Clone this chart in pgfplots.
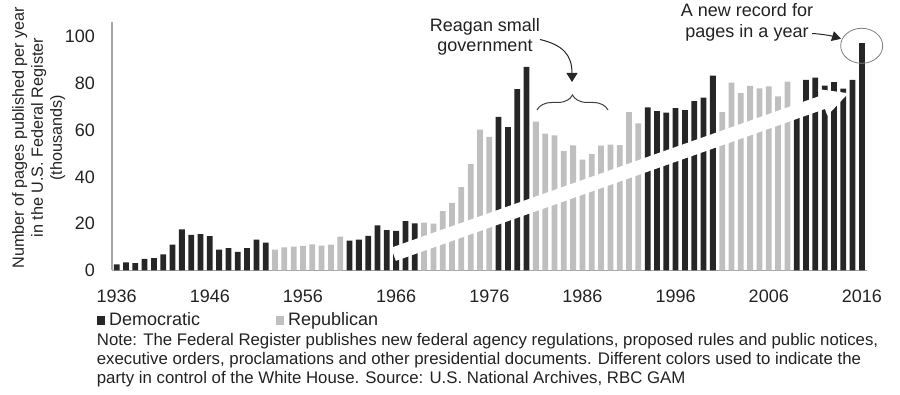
\documentclass[border=0pt]{standalone}
\usepackage{fontspec}
\setmainfont{Liberation Sans}
\usepackage{pgfplots}
\usepackage{pgfplotstable}
\pgfplotsset{compat=1.18}
\usetikzlibrary{arrows.meta,decorations.pathreplacing}

\definecolor{dem}{HTML}{262626}
\definecolor{rep}{HTML}{BFBFBF}
\definecolor{axisgray}{HTML}{A6A6A6}
\definecolor{txt}{HTML}{222222}
\definecolor{note}{HTML}{404040}

% Federal Register pages published per year (thousands), by party in the White House
\pgfplotstableread{
year pages
1936 2.6
1937 3.5
1938 3.2
1939 5.0
1940 5.3
1941 6.9
1942 11.1
1943 17.6
1944 15.2
1945 15.5
1946 14.7
1947 8.9
1948 9.6
1949 8.0
1950 9.6
1951 13.2
1952 11.9
1961 12.8
1962 13.2
1963 14.8
1964 19.3
1965 17.2
1966 16.9
1967 21.1
1968 20.1
1977 65.6
1978 61.3
1979 77.5
1980 87.0
1993 69.7
1994 68.1
1995 67.5
1996 69.4
1997 68.5
1998 72.4
1999 73.9
2000 83.3
2009 68.6
2010 81.4
2011 82.4
2012 79.0
2013 80.5
2014 77.7
2015 81.4
2016 97.1
}\demtable

\pgfplotstableread{
year pages
1953 8.9
1954 9.9
1955 10.2
1956 10.5
1957 11.2
1958 10.6
1959 11.1
1960 14.5
1969 20.5
1970 20.0
1971 25.4
1972 28.9
1973 35.6
1974 45.4
1975 60.2
1976 57.1
1981 63.6
1982 58.5
1983 57.7
1984 51.0
1985 53.5
1986 47.4
1987 49.7
1988 53.4
1989 53.8
1990 53.6
1991 67.7
1992 62.9
2001 67.7
2002 80.3
2003 75.8
2004 78.9
2005 77.8
2006 78.7
2007 74.4
2008 80.7
}\reptable

\begin{document}
\begin{tikzpicture}[font=\fontsize{9}{10.3}\selectfont, text=txt]
\useasboundingbox (-56pt,-62.25pt) rectangle (394pt,135.25pt);
\begin{axis}[
  at={(0pt,0pt)}, anchor=south west,
  scale only axis, width=377.3pt, height=124.4pt,
  xmin=1935.5, xmax=2016.5, ymin=0, ymax=106.3,
  axis x line*=bottom, axis y line*=left,
  axis line style={draw=axisgray, line width=0.6pt, -},
  xtick={1936,1946,...,2016}, ytick={0,20,...,100},
  major tick length=0pt,
  /pgf/number format/assume math mode=true,
  x tick label style={/pgf/number format/1000 sep={}, yshift=-6pt},
  y tick label style={xshift=-5pt},
  tick label style={font=\fontsize{9}{10}\selectfont, text=txt},
  clip=false,
  ylabel={Number of pages published per year\\in the U.S. Federal Register\\(thousands)},
  ylabel style={at={(axis description cs:-0.097,0.534)}, anchor=center, rotate=0,
    align=center, font=\fontsize{8.1}{9.5}\selectfont, text=txt},
  legend columns=2,
  legend cell align=left,
  legend style={at={(axis description cs:-0.0203,-0.2016)}, anchor=west,
    draw=none, fill=none, inner sep=0pt, font=\fontsize{9}{10}\selectfont,
    /tikz/every even column/.append style={column sep=36pt}},
  legend image code/.code={\fill[#1] (0pt,-2.2pt) rectangle (4pt,2.2pt);},
]
\addplot[ybar, bar width=0.62, bar shift=0pt, fill=dem, draw=none]
  table[x=year, y=pages]{\demtable};
\addlegendentry{Democratic}
\addplot[ybar, bar width=0.62, bar shift=0pt, fill=rep, draw=none]
  table[x=year, y=pages]{\reptable};
\addlegendentry{Republican}
\end{axis}

% annotations, positioned on a 900 x 395 grid (y downwards)
\begin{scope}[shift={(-56pt,135.25pt)}, x=0.5pt, y=-0.5pt]
  % broad trend arrow
  \draw[white, line width=7pt, -{Triangle[width=13pt,length=14pt]}]
    (393.5,254.3) -- (849,93);
  % Reagan years
  \node[align=center, font=\fontsize{9}{10}\selectfont] at (485,36.5)
    {Reagan small\\government};
  \draw[dem, line width=0.5pt, -{Triangle[width=5.5pt,length=4.5pt]}]
    (540,39.5) .. controls (563,45) and (572,55) .. (572,82);
  \draw[note, line width=0.5pt, decorate, decoration={brace, amplitude=7.5pt}]
    (537,110) -- (608,110);
  % record year
  \node[align=center, font=\fontsize{9}{10.3}\selectfont] at (747,22.3)
    {A new record for\\pages in a year};
  \draw[dem, line width=0.5pt, -{Triangle[width=5pt,length=4.5pt]}]
    (812,33.5) .. controls (822,34) and (832,36) .. (841,38.8);
  \draw[gray, line width=0.4pt] (861.7,45.8) ellipse [x radius=10.5pt, y radius=8.75pt];
  % footnote
  \node[anchor=north west, align=left, inner sep=0pt,
        font=\fontsize{8.4}{9.5}\selectfont, text=txt] at (96.5,333)
    {Note: The Federal Register publishes new federal agency regulations, proposed rules and public notices,\\
     executive orders, proclamations and other presidential documents. Different colors used to indicate the\\
     party in control of the White House. Source: U.S. National Archives, RBC GAM};
\end{scope}
\end{tikzpicture}
\end{document}
